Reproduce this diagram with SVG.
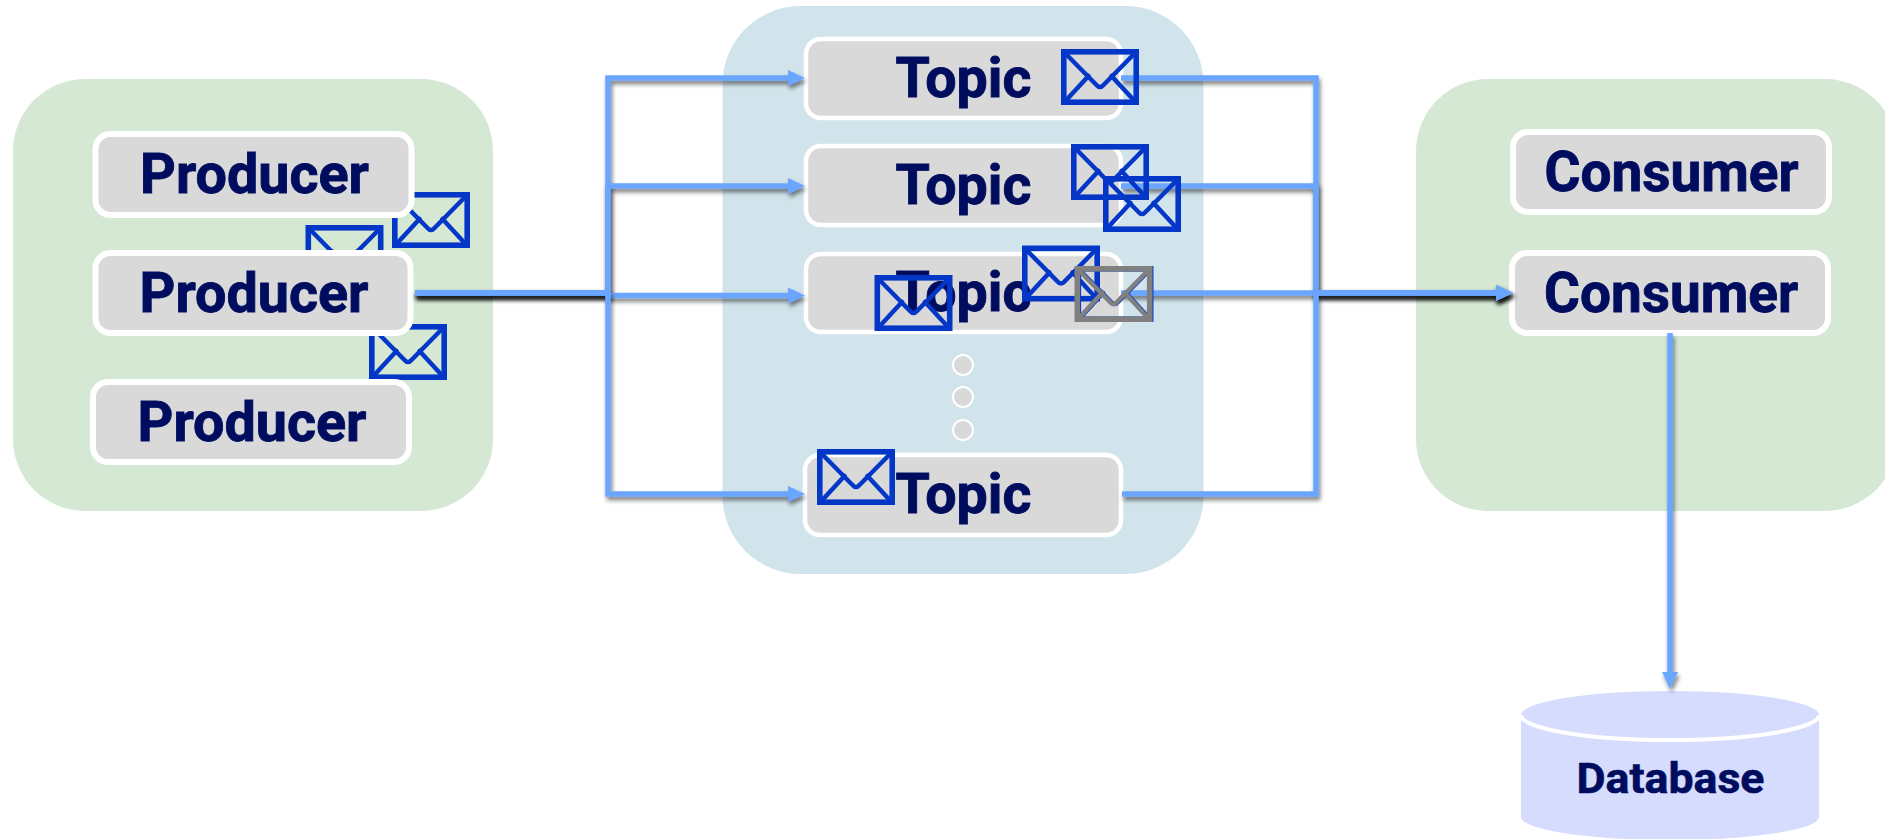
<svg xmlns="http://www.w3.org/2000/svg" width="1885" height="839" viewBox="0 0 1885 839">
<style>
.box{fill:#d9d9d9;stroke:#fff;stroke-width:6}
.tbox{fill:#d9d9d9;stroke:#fff;stroke-width:4.5}
.lbl{font-family:Roboto,"Liberation Sans",sans-serif;font-weight:700;font-size:55px;fill:#000d5f;stroke:#000d5f;stroke-width:.9;text-anchor:middle}
.dot{fill:#d9d9d9;stroke:#fff;stroke-width:2}
.conn{fill:none;stroke:#6aa5ff;stroke-width:5.500;stroke-linejoin:miter;filter:url(#sh)}
.head{fill:#6aa5ff}
.env{fill:none;stroke:#0437c8;stroke-linejoin:round;stroke-linecap:round}
.gray{stroke:#808080}
</style>
<defs>
<filter id="sh" x="0" y="0" width="1885" height="839" filterUnits="userSpaceOnUse">
<feDropShadow dx="1.500" dy="3.500" stdDeviation="2" flood-color="#000" flood-opacity="0.5"/>
</filter>
<g id="mail">
<rect x="2.800" y="2.800" width="72.400" height="50.400" stroke-width="5.600" stroke-linejoin="miter"/>
<path d="M3 3L35.500 36Q39 40 42.500 36L75 3" stroke-width="4.500"/>
<path d="M3.500 53L27.500 27M74.500 53L50.500 27" stroke-width="4.500"/>
</g>
<marker id="ah" markerUnits="userSpaceOnUse" markerWidth="17" markerHeight="16" refX="8" refY="8" orient="auto"><path class="head" d="M0 0L17 8L0 16Z"/></marker>
</defs>
<g id="producer-group"><rect x="13" y="79" width="480" height="432" rx="72" fill="#d5e8d4"/></g>
<g id="topic-group"><rect x="722.500" y="6" width="481" height="568" rx="78" fill="#d2e4eb"/></g>
<g id="consumer-group"><rect x="1416" y="79" width="481" height="432" rx="72" fill="#d5e8d4"/></g>
<g id="producer-messages">
<use href="#mail" class="env" x="392" y="192"/>
<use href="#mail" class="env" x="305.500" y="225"/>
<use href="#mail" class="env" x="369" y="324"/>
</g>
<g id="producer-1"><rect class="box" x="95.500" y="134" width="316" height="81" rx="15"/><text class="lbl" x="254.500" y="192.500" textLength="229" lengthAdjust="spacingAndGlyphs">Producer</text></g>
<g id="producer-2"><rect class="box" x="95.500" y="253" width="315" height="80" rx="15"/><text class="lbl" x="254" y="312" textLength="229" lengthAdjust="spacingAndGlyphs">Producer</text></g>
<g id="producer-3"><rect class="box" x="93" y="382" width="316" height="80" rx="15"/><text class="lbl" x="252" y="441" textLength="229" lengthAdjust="spacingAndGlyphs">Producer</text></g>
<g id="topic-1"><rect class="tbox" x="806" y="39" width="315" height="79" rx="15"/><text class="lbl" x="963.500" y="97" textLength="136" lengthAdjust="spacingAndGlyphs">Topic</text></g>
<g id="topic-2"><rect class="tbox" x="806" y="146" width="315" height="79" rx="15"/><text class="lbl" x="963.500" y="204" textLength="136" lengthAdjust="spacingAndGlyphs">Topic</text></g>
<g id="topic-3"><rect class="tbox" x="806" y="254" width="315" height="78" rx="15"/><text class="lbl" x="963.500" y="311" textLength="136" lengthAdjust="spacingAndGlyphs">Topic</text></g>
<g id="topic-4"><rect class="tbox" x="805" y="455" width="316" height="80" rx="15"/><text class="lbl" x="963.500" y="513" textLength="136" lengthAdjust="spacingAndGlyphs">Topic</text></g>
<g id="dots"><circle class="dot" cx="963" cy="365" r="10"/><circle class="dot" cx="963" cy="397" r="10"/><circle class="dot" cx="963" cy="430" r="10"/></g>
<g id="consumer-1"><rect class="box" x="1513" y="132" width="316" height="80" rx="15"/><text class="lbl" x="1671.500" y="191" textLength="254" lengthAdjust="spacingAndGlyphs">Consumer</text></g>
<g id="consumer-2"><rect class="box" x="1512" y="253" width="316" height="80" rx="15"/><text class="lbl" x="1671" y="312" textLength="254" lengthAdjust="spacingAndGlyphs">Consumer</text></g>
<g id="database">
<path d="M1521 715V817A149 23 0 0 0 1819 817V715Z" fill="#d6dcfd"/>
<ellipse cx="1670" cy="715" rx="149" ry="24" fill="#d6dcfd"/>
<path d="M1521 715A149 25 0 0 0 1819 715" fill="none" stroke="#fff" stroke-width="4"/>
<text x="1670.500" y="793" text-anchor="middle" font-family="Roboto,'Liberation Sans',sans-serif" font-weight="700" font-size="42" fill="#000d5f" stroke="#000d5f" stroke-width=".6" textLength="188" lengthAdjust="spacingAndGlyphs">Database</text>
</g>
<g id="connectors">
<path class="conn" d="M415 293H608V78H796" marker-end="url(#ah)"/>
<path class="conn" d="M415 293H608V186H796" marker-end="url(#ah)"/>
<path class="conn" d="M415 293H608V295.500H796" marker-end="url(#ah)"/>
<path class="conn" d="M415 293H608V494H796" marker-end="url(#ah)"/>
<path class="conn" d="M1121 78H1316V293H1504" marker-end="url(#ah)"/>
<path class="conn" d="M1121 186H1316V293H1504" marker-end="url(#ah)"/>
<path class="conn" d="M1121 293H1504" marker-end="url(#ah)"/>
<path class="conn" d="M1122 494H1316V293H1504" marker-end="url(#ah)"/>
<path class="conn" d="M1670 333V680" marker-end="url(#ah)"/>
</g>
<g id="topic-messages">
<use href="#mail" class="env" x="1061" y="49"/>
<use href="#mail" class="env" x="1071" y="144"/>
<use href="#mail" class="env" x="1103" y="176"/>
<use href="#mail" class="env" x="1022" y="245.500"/>
<use href="#mail" class="env" x="1075.500" y="266"/>
<use href="#mail" class="env gray" x="1074.500" y="266"/>
<use href="#mail" class="env" x="874.500" y="275"/>
<use href="#mail" class="env" x="817" y="449"/>
</g>
</svg>
